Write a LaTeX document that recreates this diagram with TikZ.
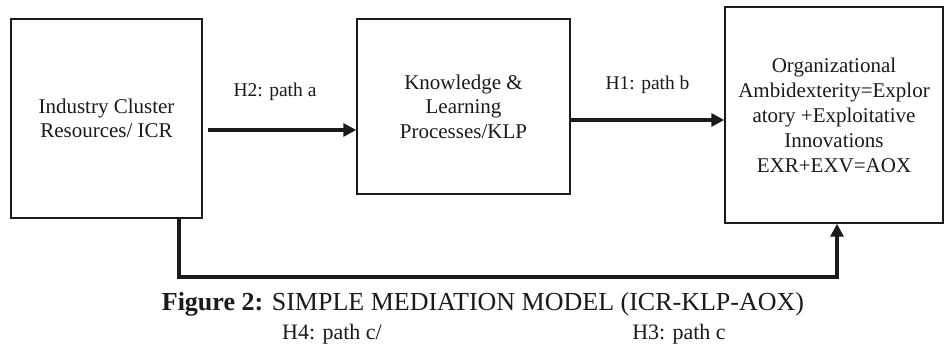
\documentclass[tikz,border=0pt]{standalone}
\usepackage{fontspec}
\setmainfont{Liberation Serif}
\usepackage{xcolor}
\usepackage{tikz}
\usetikzlibrary{arrows.meta,positioning,calc}
\definecolor{ink}{HTML}{1A1A1A}

\begin{document}
\begin{tikzpicture}[
  x=1pt,y=-1pt,
  font=\fontsize{21}{24.5}\selectfont,
  box/.style={draw=ink,line width=1.5pt,align=center,inner sep=0pt,text=ink},
  lbl/.style={font=\fontsize{19.5}{22}\selectfont,anchor=base,text=ink},
  arr/.style={-{Triangle[length=13pt,width=13pt]},line width=4pt,draw=ink}
]
\useasboundingbox (0,0) rectangle (944,352);
\node[box,minimum width=191pt,minimum height=199pt] (icr) at (106.5,118.5) {Industry Cluster\\Resources/ ICR};
\node[box,minimum width=213pt,minimum height=175pt] (klp) at (463.5,106.5) {Knowledge \&\\Learning\\Processes/KLP};
\node[box,minimum width=218pt,minimum height=216pt,font=\fontsize{21}{25}\selectfont] (aox) at (834,115) {Organizational\\Ambidexterity=Explor\\atory +Exploitative\\Innovations\\EXR+EXV=AOX};
\coordinate (low) at (500,277);

\draw[arr] ([xshift=5pt,yshift=-11.5pt]icr.east) -- node[lbl,midway,yshift=33pt,xshift=-7pt]{H2: path a} ([yshift=-11.5pt]icr.east -| klp.west);
\draw[arr] ([yshift=-13.5pt]klp.east) -- node[lbl,midway,yshift=30pt]{H1: path b} ([yshift=-13.5pt]klp.east -| aox.west);
\draw[arr] ([xshift=72.5pt]icr.south) |- (low) -| ([xshift=3pt]aox.south);

\node[anchor=base,text=ink,font=\fontsize{26}{30}\selectfont] (cap) at (483,311) {\textbf{Figure 2:} SIMPLE MEDIATION MODEL (ICR-KLP-AOX)};
\node[anchor=base,text=ink,font=\fontsize{22}{26}\selectfont] (hfour) at (332,339) {H4: path c/};
\node[anchor=base,text=ink,font=\fontsize{22}{26}\selectfont] (hthree) at (679,339) {H3: path c};
\end{tikzpicture}
\end{document}
